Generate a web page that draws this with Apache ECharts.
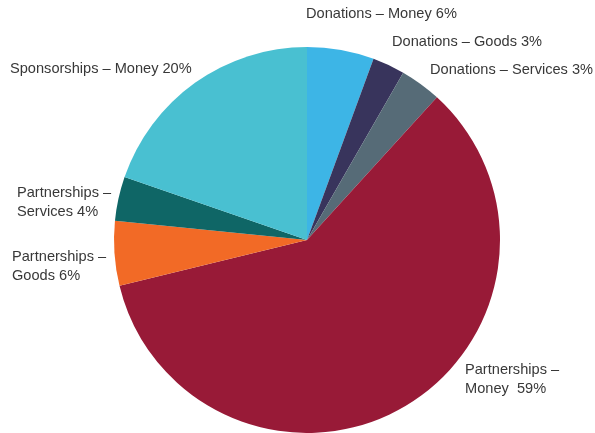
<!DOCTYPE html>
<html><head><meta charset="utf-8">
<script src="https://cdn.jsdelivr.net/npm/echarts@6/dist/echarts.min.js"></script>
<style>html,body{margin:0;padding:0;background:#fff}#c{width:595px;height:433px}</style>
</head><body><div id="c"></div>
<script>
var categories = ['Donations – Money','Donations – Goods','Donations – Services','Partnerships – Money','Partnerships – Goods','Partnerships – Services','Sponsorships – Money'];
var shares = [5.6, 2.7, 3.45, 59.4, 5.4, 3.7, 19.7];
var labelTexts = ['Donations – Money 6%','Donations – Goods 3%','Donations – Services 3%','Partnerships –\nMoney  59%','Partnerships –\nGoods 6%','Partnerships –\nServices 4%','Sponsorships – Money 20%'];
var colors = ['#3DB5E6','#38345C','#566B77','#981A37','#F26A26','#0F6666','#49C0D1'];
var labelPos = [[306,14],[392,42],[430,70],[465,379],[12,266],[17,202],[10,69]];

var chart = echarts.init(document.getElementById('c'), null, {renderer:'canvas'});
chart.setOption({
  animation:false,
  series:[{
    type:'pie',
    center:[307,240],
    radius:[0,193],
    startAngle:90,
    clockwise:true,
    silent:true,
    itemStyle:{borderWidth:0},
    label:{
      show:true,
      position:'outside',
      formatter:function(p){return labelTexts[p.dataIndex];},
      fontFamily:'Liberation Sans, Arial, sans-serif',
      fontSize:14.6,
      lineHeight:19,
      color:'#383838',
      overflow:'none',
      width:300
    },
    labelLine:{show:false},
    labelLayout:function(p){
      var pos = labelPos[p.dataIndex];
      return {x:pos[0], y:pos[1], align:'left', verticalAlign:'middle', hideOverlap:false};
    },
    data: categories.map(function(c,i){return {name:c, value:shares[i], itemStyle:{color:colors[i]}};})
  }]
});
</script></body></html>
